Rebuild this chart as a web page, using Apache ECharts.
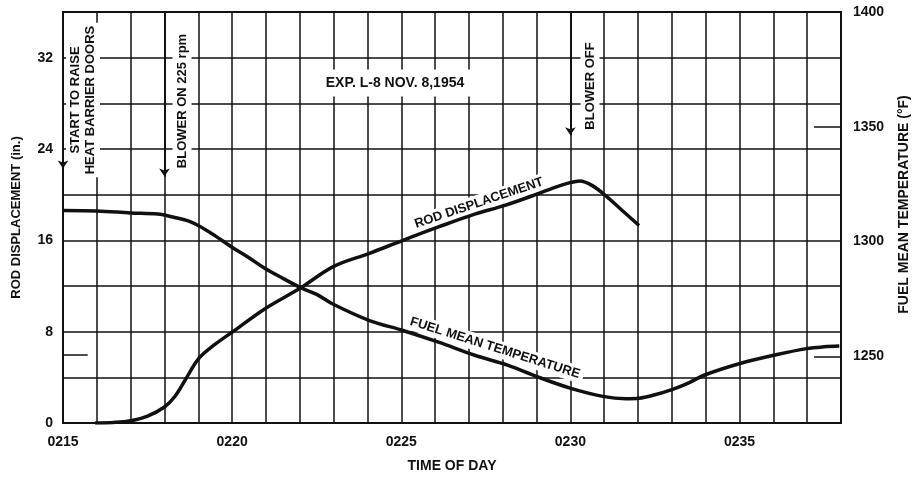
<!DOCTYPE html>
<html>
<head>
<meta charset="utf-8">
<script src="https://cdn.jsdelivr.net/npm/echarts@6/dist/echarts.min.js"></script>
<style>
html,body{margin:0;padding:0;background:#fff;}
#chart{width:919px;height:478px;}
</style>
</head>
<body>
<div id="chart"></div>
<script>
// ---- data (minutes after 0215) ----
const xTickLabels = ['0215', '0220', '0225', '0230', '0235'];
const leftTickLabels = [0, 8, 16, 24, 32];
const rightTickLabels = [1250, 1300, 1350, 1400];

const rodTime  = [0.95, 1.5, 2.0, 2.5, 3.0, 3.3, 3.6, 4.0, 4.5, 5.07, 5.95, 7.03, 7.99, 9.06, 10.05, 11.1, 12.17, 13.04, 14.01, 14.5, 14.99, 15.28, 15.66, 16.05, 16.5, 17.03];
const rodValue = [0, 0.05, 0.2, 0.6, 1.4, 2.3, 3.7, 5.6, 6.9, 8.1, 9.97, 11.84, 13.7, 14.86, 16.0, 17.17, 18.3, 19.04, 20.04, 20.6, 21.05, 21.2, 20.77, 19.9, 18.7, 17.3];

const tempTime  = [0, 1, 2, 2.8, 3.3, 3.7, 4.0, 4.5, 4.97, 5.5, 5.95, 6.5, 7.03, 7.5, 7.99, 9.06, 10.05, 11.1, 12.17, 13.14, 14.01, 14.99, 15.96, 16.64, 17.03, 17.5, 18.0, 18.5, 18.97, 20.04, 21.11, 21.98, 22.5, 22.95];
const tempValue = [1313.5, 1313.3, 1312.5, 1312, 1310.5, 1309, 1307, 1302.5, 1297.8, 1293, 1288.5, 1284, 1279.9, 1277, 1272.7, 1265.6, 1261.3, 1256.2, 1250.5, 1246.2, 1241.2, 1236.2, 1232.6, 1231.6, 1231.8, 1233.3, 1235.5, 1238.5, 1241.9, 1247.0, 1250.8, 1253.4, 1254.2, 1254.5];

// event arrows: time and where the arrow head stops (rod displacement units)
const eventTimes = [0, 3, 15];
const eventArrowEnds = [22.3, 21.6, 25.2];
// short inward tick on the left axis
const leftShortTick = {value: 6, from: 0, to: 0.73};

const rodData = rodTime.map((t, i) => [t, rodValue[i]]);
const tempData = tempTime.map((t, i) => [t, tempValue[i]]);

const FONT = '"Liberation Sans", Arial, sans-serif';
const INK = '#111';

const chart = echarts.init(document.getElementById('chart'), null, {renderer: 'canvas'});

function txt(text, x, y, rot, size, pad) {
  return {
    type: 'text', x: x, y: y, rotation: rot * Math.PI / 180, z: 1,
    style: {
      text: text, fill: INK, fontFamily: FONT, fontWeight: 'bold', fontSize: size,
      align: 'center', verticalAlign: 'middle', textAlign: 'center', textVerticalAlign: 'middle',
      backgroundColor: '#fff', padding: pad || [2, 4], lineHeight: 15
    }
  };
}

const arrowLines = eventTimes.map((t, i) => [{coord: [t, 36]}, {coord: [t, eventArrowEnds[i]]}]);
arrowLines.push([
  {coord: [leftShortTick.from, leftShortTick.value], symbol: 'none'},
  {coord: [leftShortTick.to, leftShortTick.value], symbol: 'none', lineStyle: {width: 1.5}}
]);

const option = {
  animation: false,
  backgroundColor: '#fff',
  grid: {left: 63, right: 68, top: 12, bottom: 49, show: true, borderColor: INK, borderWidth: 2, backgroundColor: 'transparent'},
  xAxis: {
    type: 'value', min: 0, max: 23, interval: 1,
    name: 'TIME OF DAY', nameLocation: 'middle', nameGap: 36,
    nameTextStyle: {color: INK, fontFamily: FONT, fontWeight: 'bold', fontSize: 14},
    axisLine: {show: true, lineStyle: {color: INK, width: 2}},
    axisTick: {show: false},
    axisLabel: {
      color: INK, fontFamily: FONT, fontWeight: 'bold', fontSize: 14, margin: 12,
      formatter: v => (v % 5 === 0 ? xTickLabels[v / 5] : '')
    },
    splitLine: {show: true, lineStyle: {color: INK, width: 1.5}}
  },
  yAxis: [
    {
      type: 'value', min: 0, max: 36, interval: 4, position: 'left',
      name: 'ROD DISPLACEMENT (in.)', nameLocation: 'middle', nameGap: 40, nameRotate: 90,
      nameTextStyle: {color: INK, fontFamily: FONT, fontWeight: 'bold', fontSize: 13},
      axisLine: {show: true, lineStyle: {color: INK, width: 2}},
      axisTick: {show: false},
      axisLabel: {
        color: INK, fontFamily: FONT, fontWeight: 'bold', fontSize: 14, margin: 10,
        formatter: v => (leftTickLabels.indexOf(v) >= 0 ? String(v) : '')
      },
      splitLine: {show: true, lineStyle: {color: INK, width: 1.5}}
    },
    {
      type: 'value', min: 1221, max: 1400, position: 'right',
      name: 'FUEL MEAN TEMPERATURE (°F)', nameLocation: 'middle', nameGap: 56, nameRotate: 90,
      nameTextStyle: {color: INK, fontFamily: FONT, fontWeight: 'bold', fontSize: 14, padding: [0, 0, 0, 26]},
      axisLine: {show: true, lineStyle: {color: INK, width: 2}},
      axisTick: {show: true, inside: true, length: 27, customValues: [1250, 1350], lineStyle: {color: INK, width: 1.5}},
      axisLabel: {
        color: INK, fontFamily: FONT, fontWeight: 'bold', fontSize: 14, margin: 12,
        customValues: rightTickLabels,
        formatter: v => String(v)
      },
      splitLine: {show: false}
    }
  ],
  series: [
    {
      name: 'ROD DISPLACEMENT', type: 'line', yAxisIndex: 0, data: rodData,
      showSymbol: false, smooth: 0.35, z: 5,
      lineStyle: {color: INK, width: 3.5},
      markLine: {
        silent: true, symbol: ['none', 'arrow'], symbolSize: 8,
        lineStyle: {color: INK, width: 2, type: 'solid'},
        label: {show: false},
        data: arrowLines
      }
    },
    {
      name: 'FUEL MEAN TEMPERATURE', type: 'line', yAxisIndex: 1, data: tempData,
      showSymbol: false, smooth: 0.35, z: 5,
      lineStyle: {color: INK, width: 3.5}
    }
  ],
  graphic: [
    txt('START TO RAISE\nHEAT BARRIER DOORS', 83, 100, 90, 13, [2, 3]),
    txt('BLOWER ON 225 rpm', 182, 101, 90, 13),
    txt('BLOWER OFF', 590, 86, 90, 13),
    txt('EXP. L-8 NOV. 8,1954', 395, 83, 0, 14, [6, 8]),
    txt('ROD DISPLACEMENT', 479, 203, 18.6, 13, [1, 4]),
    txt('FUEL MEAN TEMPERATURE', 495, 348, -17.5, 13, [1, 4])
  ]
};
chart.setOption(option);
</script>
</body>
</html>
